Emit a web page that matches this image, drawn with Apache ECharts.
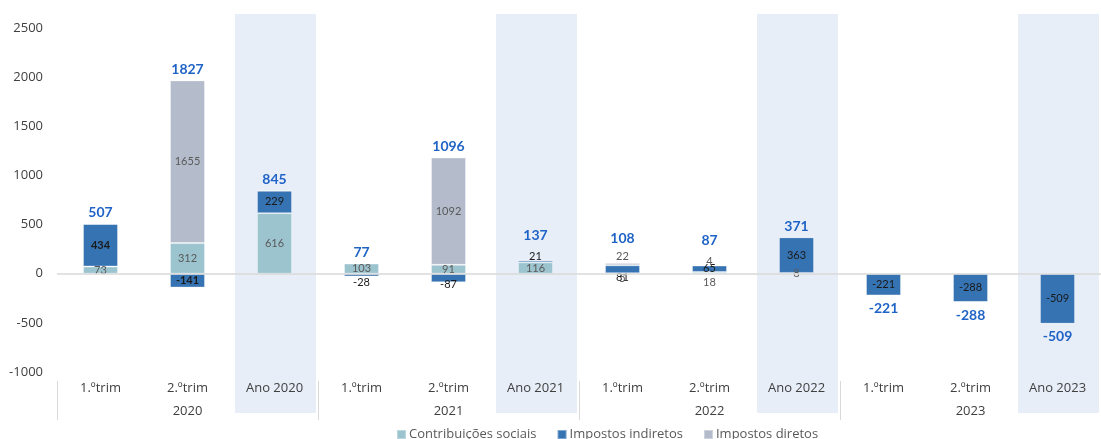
<!DOCTYPE html>
<html>
<head>
<meta charset="utf-8">
<script src="https://cdn.jsdelivr.net/npm/echarts@6/dist/echarts.min.js"></script>
<style>
  html, body { margin: 0; padding: 0; background: #ffffff; }
  #chart { width: 1101px; height: 439px; }
</style>
</head>
<body>
<div id="chart"></div>
<script>
// Quarterly and annual contributions, by component
const categories = ['1.ºtrim', '2.ºtrim', 'Ano 2020', '1.ºtrim', '2.ºtrim', 'Ano 2021',
                    '1.ºtrim', '2.ºtrim', 'Ano 2022', '1.ºtrim', '2.ºtrim', 'Ano 2023'];
const years = ['2020', '2021', '2022', '2023'];
const contribuicoesSociais = [73, 312, 616, 103, 91, 116, 5, 18, 8, 0, 0, 0];
const impostosIndiretos = [434, -141, 229, -28, -87, 21, 81, 65, 363, -221, -288, -509];
const impostosDiretos = [0, 1655, 0, 0, 1092, 0, 22, 4, 0, 0, 0, 0];
const totals = [507, 1827, 845, 77, 1096, 137, 108, 87, 371, -221, -288, -509];
const yTicks = { min: -1000, max: 2500, interval: 500 };

// Label placement tweaks for the thin segments
const labelTweaks = {
  cs: { 6: { position: 'bottom', distance: -1.5 }, 7: { position: 'bottom', distance: 3.5 } },
  ii: { 3: { position: 'bottom', distance: 0 }, 4: { position: 'bottom', distance: -3 },
        5: { position: 'top', distance: -2 }, 6: { position: 'bottom', distance: -1 } },
  id: { 6: { position: 'top', distance: 1 }, 7: { position: 'top', distance: -2 } }
};
const boldLabels = { ii: [0, 1] };

const COLORS = { cs: '#9CC4CF', ii: '#3673B2', id: '#B4BCCB' };
const AXIS_FONT = '"Open Sans", "Noto Sans", sans-serif';
const DATA_FONT = 'Lato, "Noto Sans", sans-serif';

function buildData(values, key) {
  return values.map((v, i) => {
    const item = { value: v };
    const tw = (labelTweaks[key] || {})[i];
    const lab = {};
    if (tw) Object.assign(lab, tw);
    if ((boldLabels[key] || []).includes(i)) lab.fontWeight = 'bold';
    if (Object.keys(lab).length) item.label = lab;
    return item;
  });
}

function barSeries(name, values, key, labelColor) {
  return {
    name: name,
    type: 'bar',
    stack: 'total',
    barWidth: 35,
    xAxisIndex: 0,
    itemStyle: { color: COLORS[key], borderColor: 'rgba(255,255,255,0.35)', borderWidth: 1 },
    label: {
      show: true,
      position: 'inside',
      color: labelColor,
      fontSize: 11,
      fontFamily: DATA_FONT,
      formatter: p => (p.value === 0 ? '' : String(p.value))
    },
    emphasis: { disabled: true },
    data: buildData(values, key)
  };
}

// Anchor of each total label: top of positive stack or bottom of negative stack
const posTop = categories.map((_, i) =>
  [contribuicoesSociais[i], impostosIndiretos[i], impostosDiretos[i]].filter(v => v > 0).reduce((a, b) => a + b, 0));
const negBottom = categories.map((_, i) =>
  [contribuicoesSociais[i], impostosIndiretos[i], impostosDiretos[i]].filter(v => v < 0).reduce((a, b) => a + b, 0));
const hasTopLabel = categories.map((_, i) =>
  ['cs', 'ii', 'id'].some(k => labelTweaks[k][i] && labelTweaks[k][i].position === 'top'));

const totalData = totals.map((t, i) => [i, t >= 0 ? posTop[i] : negBottom[i], t, hasTopLabel[i] ? 1 : 0]);

const chart = echarts.init(document.getElementById('chart'), null, { renderer: 'canvas' });

chart.setOption({
  animation: false,
  backgroundColor: '#ffffff',
  grid: { left: 57, top: 28, width: 1051, bottom: 67, containLabel: false },
  legend: {
    left: 391,
    top: 423,
    icon: 'rect',
    itemWidth: 9,
    itemHeight: 9,
    itemGap: 20,
    data: ['Contribuições sociais', 'Impostos indiretos', 'Impostos diretos'],
    textStyle: { color: '#595959', fontSize: 13, fontFamily: AXIS_FONT, padding: [0, 0, 0, -2] }
  },
  xAxis: [
    {
      type: 'category',
      data: categories,
      position: 'bottom',
      axisLine: { show: false, onZero: false },
      axisTick: { show: false },
      axisLabel: { interval: 0, margin: 10, color: '#404040', fontSize: 13, fontFamily: AXIS_FONT }
    },
    {
      type: 'category',
      data: years,
      position: 'bottom',
      offset: 9,
      axisLine: { show: false, onZero: false },
      axisTick: { show: true, interval: 0, length: 39, lineStyle: { color: '#D9D9D9', width: 1 } },
      axisLabel: { interval: 0, margin: 24, color: '#404040', fontSize: 13, fontFamily: AXIS_FONT }
    }
  ],
  yAxis: {
    type: 'value',
    min: yTicks.min,
    max: yTicks.max,
    interval: yTicks.interval,
    axisLine: { show: false },
    axisTick: { show: false },
    splitLine: { show: false },
    axisLabel: {
      margin: 14, color: '#404040', fontSize: 13, fontFamily: AXIS_FONT,
      formatter: v => String(v)
    }
  },
  series: [
    Object.assign(barSeries('Contribuições sociais', contribuicoesSociais, 'cs', '#595959'), {
      markLine: {
        silent: true,
        symbol: 'none',
        label: { show: false },
        lineStyle: { color: '#D9D9D9', type: 'solid', width: 1.5 },
        data: [{ yAxis: 0 }]
      }
    }),
    barSeries('Impostos indiretos', impostosIndiretos, 'ii', '#1a1a1a'),
    barSeries('Impostos diretos', impostosDiretos, 'id', '#595959'),
    {
      name: 'Total',
      type: 'custom',
      xAxisIndex: 0,
      z: 5,
      silent: true,
      data: totalData,
      renderItem: function (params, api) {
        const idx = api.value(0);
        const anchor = api.value(1);
        const total = api.value(2);
        const lifted = api.value(3) === 1;
        const p = api.coord([idx, anchor]);
        const dy = total >= 0 ? -(lifted ? 25 : 11) : 13;
        return {
          type: 'text',
          style: {
            text: String(total),
            x: p[0],
            y: p[1] + dy,
            align: 'center',
            verticalAlign: 'middle',
            fill: '#1F63C6',
            font: 'bold 14px ' + DATA_FONT
          }
        };
      }
    }
  ]
});

// Shaded backdrop behind the annual columns
const bands = categories
  .map((c, i) => (c.startsWith('Ano') ? i : -1))
  .filter(i => i >= 0)
  .map(i => {
    const cx = chart.convertToPixel({ xAxisIndex: 0 }, i);
    return {
      type: 'rect',
      silent: true,
      z: -10,
      shape: { x: cx - 39.5, y: 14, width: 81, height: 399 },
      style: { fill: '#E7EEF8' }
    };
  });
chart.setOption({ graphic: { elements: bands } });
</script>
</body>
</html>
